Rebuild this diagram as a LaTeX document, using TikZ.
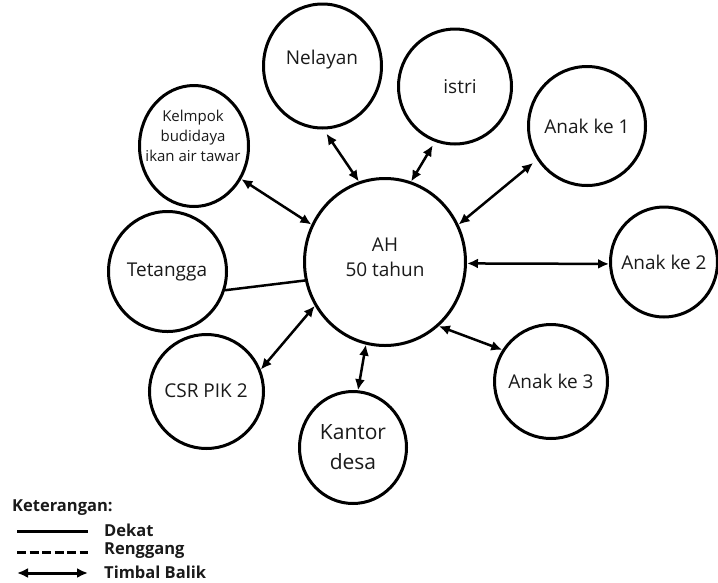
\documentclass[tikz,border=0pt]{standalone}
\usepackage{fontspec}
\setmainfont{Open Sans}
\usetikzlibrary{arrows.meta,shapes.geometric}
\definecolor{ink}{HTML}{1A1A1A}
\tikzset{
  circ/.style={draw=black, line width=3pt, shape=ellipse, inner sep=0pt, fill=white},
  lbl/.style={text=ink, font=\fontsize{19}{25}\selectfont, align=center, inner sep=0pt},
  twoway/.style={line width=2.5pt, {Latex[length=11pt,width=10pt]}-{Latex[length=11pt,width=10pt]}},
  plain/.style={line width=2.5pt},
  legline/.style={line width=3pt},
  leg/.style={text=ink, font=\fontsize{16.5}{19}\selectfont\bfseries, anchor=west, inner sep=0pt},
}
\begin{document}
\begin{tikzpicture}[x=1pt,y=-1pt]
\useasboundingbox (0,0) rectangle (718,582);
\fill[white] (0,0) rectangle (718,582);
% circles
\node[circ, minimum width=161pt, minimum height=167pt] (ah) at (385,262) {};
\node[circ, minimum width=118pt, minimum height=124pt] (nel) at (322.5,66) {};
\node[circ, minimum width=113pt, minimum height=115pt] (ist) at (455,86.5) {};
\node[circ, minimum width=117pt, minimum height=119pt] (an1) at (587,126) {};
\node[circ, minimum width=107pt, minimum height=110pt] (an2) at (664,262) {};
\node[circ, minimum width=113pt, minimum height=114pt] (an3) at (551,381.5) {};
\node[circ, minimum width=107pt, minimum height=112pt] (kan) at (353,447.5) {};
\node[circ, minimum width=114pt, minimum height=114pt] (csr) at (206.5,391.5) {};
\node[circ, minimum width=118pt, minimum height=120pt] (tet) at (167.5,271.5) {};
\node[circ, minimum width=109pt, minimum height=121pt] (kel) at (194,146) {};
% labels
\node[lbl, font=\fontsize{19}{25}\selectfont] (ahT) at (385,257) {AH\\50 tahun};
\node[lbl] (nelT) at (322,60) {Nelayan};
\node[lbl] (istT) at (460,87) {istri};
\node[lbl] (an1T) at (587,126) {Anak ke 1};
\node[lbl] (an2T) at (664,262) {Anak ke 2};
\node[lbl] (an3T) at (551,381) {Anak ke 3};
\node[lbl, font=\fontsize{21}{30}\selectfont] (kanT) at (353,447) {Kantor\\desa};
\node[lbl] (csrT) at (206,391) {CSR PIK 2};
\node[lbl] (tetT) at (167,272) {Tetangga};
\node[lbl, font=\fontsize{15}{20}\selectfont] (kelT) at (193,136) {Kelmpok\\budidaya\\ikan air tawar};
% connectors
\draw[twoway] (kel.-35) -- (ah.153);
\draw[twoway, shorten <=5pt] (nel.-89) -- (ah.108);
\draw[twoway, shorten <=4pt] (ist.-110) -- (ah.72);
\draw[twoway, shorten <=5pt] (an1.-146) -- (ah.27);
\draw[twoway] (ah.-1) -- (an2.182);
\draw[twoway] (ah.-50) -- (an3.147);
\draw[twoway] (ah.-103) -- (kan.85);
\draw[twoway] (csr.22) -- (ah.212);
\draw[plain] (tet.-18) -- (ah.193);
% legend
\node[leg] (ket) at (12,508) {Keterangan:};
\coordinate (s1) at (17,531); \coordinate (s2) at (88,531);
\coordinate (d1) at (17,552); \coordinate (d2) at (88,552);
\coordinate (a1) at (17,573); \coordinate (a2) at (88,573);
\draw[legline] (s1) -- (s2);
\draw[legline, dash pattern=on 9pt off 3.5pt] (d1) -- (d2);
\draw[twoway, line width=3pt] (a1) -- (a2);
\node[leg] (dek) at (104,530) {Dekat};
\node[leg] (ren) at (104,551) {Renggang};
\node[leg] (tim) at (104,572) {Timbal Balik};
\end{tikzpicture}
\end{document}
